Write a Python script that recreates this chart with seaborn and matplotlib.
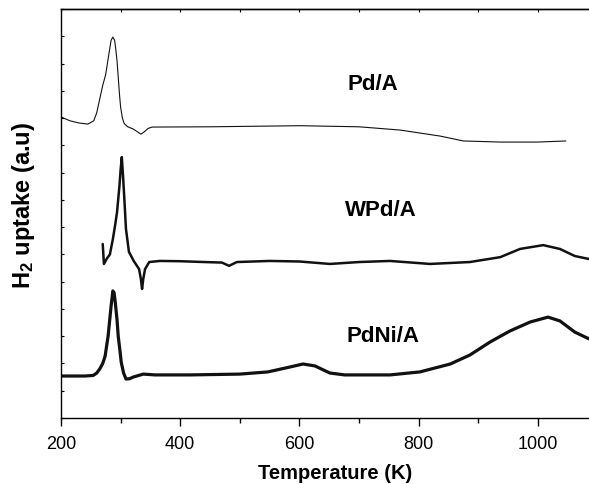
import matplotlib
matplotlib.use("Agg")
import matplotlib.pyplot as plt
import seaborn as sns
import pandas as pd
from matplotlib.ticker import MultipleLocator, NullFormatter

# TPR profiles (temperature in K, uptake in arbitrary units)
pd_temp = [200, 215, 230, 245, 255, 260, 265, 270, 275, 280, 284, 287, 290, 292,
           294, 296, 298, 300, 303, 306, 312, 321, 328, 334, 340, 346, 353, 450,
           601, 700, 769, 836, 875, 937, 1000, 1047]
pd_val = [11.04, 10.9, 10.82, 10.78, 10.9, 11.2, 11.7, 12.2, 12.6, 13.3, 13.85,
          13.97, 13.85, 13.5, 13.1, 12.5, 11.9, 11.4, 11.0, 10.8, 10.68, 10.6,
          10.5, 10.41, 10.5, 10.62, 10.67, 10.68, 10.72, 10.68, 10.56, 10.34,
          10.16, 10.12, 10.12, 10.16]

wpd_temp = [270, 272, 277, 282, 287, 291, 294, 298, 300, 302, 304, 306, 309, 314,
            322, 331, 334, 336, 338, 341, 348, 366, 400, 440, 470, 482, 495, 550,
            600, 651, 700, 752, 819, 886, 937, 970, 1009, 1037, 1062, 1086]
wpd_val = [6.38, 5.65, 5.85, 6.0, 6.56, 7.1, 7.55, 8.5, 9.1, 9.57, 8.9, 8.14,
           6.93, 6.09, 5.76, 5.46, 5.1, 4.73, 5.1, 5.46, 5.72, 5.76, 5.75, 5.72,
           5.7, 5.58, 5.72, 5.76, 5.74, 5.65, 5.72, 5.76, 5.65, 5.72, 5.9, 6.2,
           6.34, 6.2, 5.94, 5.83]

pdni_temp = [200, 240, 254, 260, 265, 270, 274, 279, 284, 287, 289, 291, 294, 296,
             299, 301, 305, 309, 315, 321, 338, 358, 416, 500, 547, 584, 606, 626,
             651, 676, 752, 802, 853, 886, 920, 953, 987, 1017, 1037, 1062, 1086]
pdni_val = [1.54, 1.54, 1.56, 1.65, 1.8, 2.0, 2.27, 3.0, 4.1, 4.66, 4.6, 4.25,
            3.6, 3.0, 2.45, 2.05, 1.65, 1.43, 1.44, 1.5, 1.61, 1.58, 1.58, 1.61,
            1.69, 1.87, 1.98, 1.91, 1.65, 1.58, 1.58, 1.69, 1.98, 2.31, 2.79, 3.19,
            3.52, 3.70, 3.56, 3.15, 2.9]

labels = ["Pd/A", "WPd/A", "PdNi/A"]

sns.set_style("ticks", {"axes.edgecolor": "black", "text.color": "black",
                        "xtick.color": "black", "ytick.color": "black",
                        "axes.labelcolor": "black"})
plt.rcParams["font.family"] = ["Liberation Sans", "DejaVu Sans"]
plt.rcParams["mathtext.fontset"] = "custom"
plt.rcParams["mathtext.rm"] = "Liberation Sans:bold"
plt.rcParams["mathtext.default"] = "rm"

fig = plt.figure(figsize=(5.89, 4.85), dpi=100)
ax = fig.add_axes([61 / 589, 66 / 485, 549 / 589, 409 / 485])

series = [
    (pd_temp, pd_val, 0.8),
    (wpd_temp, wpd_val, 1.8),
    (pdni_temp, pdni_val, 2.3),
]
for temp, val, lw in series:
    df = pd.DataFrame({"T": temp, "H2": val})
    sns.lineplot(data=df, x="T", y="H2", color="#111111", linewidth=lw,
                 sort=False, estimator=None, ax=ax)

# etiquetas de las muestras
ax.text(723, 12.28, labels[0], fontsize=16, fontweight="bold", ha="center", va="center")
ax.text(737, 7.63, labels[1], fontsize=16, fontweight="bold", ha="center", va="center")
ax.text(740, 3.04, labels[2], fontsize=16, fontweight="bold", ha="center", va="center")

ax.set_xlim(200, 1121)
ax.set_ylim(0, 15)
ax.xaxis.set_major_locator(MultipleLocator(200))
ax.xaxis.set_minor_locator(MultipleLocator(100))
ax.yaxis.set_major_locator(MultipleLocator(1))
ax.yaxis.set_major_formatter(NullFormatter())
ax.tick_params(axis="x", which="major", direction="out", length=6, width=1,
               labelsize=13, pad=6, top=False)
ax.tick_params(axis="x", which="minor", direction="out", length=3.5, width=1, top=False)
ax.tick_params(axis="y", which="major", direction="in", length=2.5, width=0.8)

# ticks cortos en el eje superior
top = ax.secondary_xaxis("top")
top.xaxis.set_major_locator(MultipleLocator(100))
top.tick_params(direction="in", length=2.5, width=0.8, labeltop=False, color="black")

for side in ["left", "bottom", "top"]:
    ax.spines[side].set_linewidth(1.0)
ax.spines["right"].set_visible(False)
top.spines["top"].set_linewidth(1.0)
top.spines["top"].set_color("black")

ax.set_xlabel("Temperature (K)", fontsize=14.5, fontweight="bold", labelpad=8)
ax.set_ylabel("H$_2$ uptake (a.u)", fontsize=17, fontweight="bold")
ax.yaxis.set_label_coords(-0.044, 0.523)

fig.savefig("out.png", dpi=100)
